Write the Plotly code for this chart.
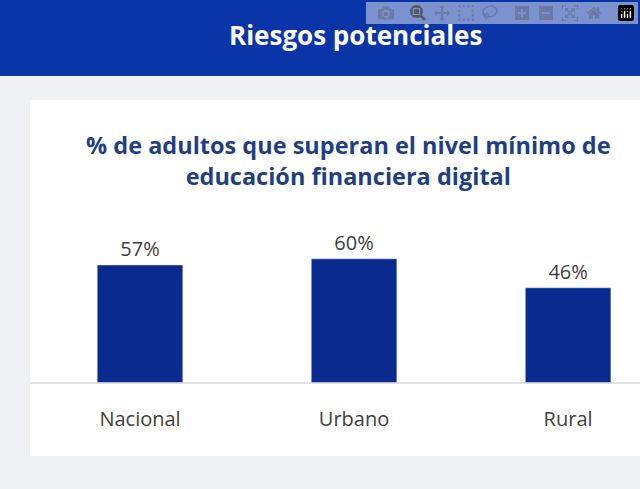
import plotly.graph_objects as go

categories = ["Nacional", "Urbano", "Rural"]
values = [57, 60, 46]
labels = ["57%", "60%", "46%"]

W, H = 640, 489
L, T, B = 33, 176, 106


def px_x(p):
    return (p - L) / (W - L)


def px_y(p):
    return (H - B - p) / (H - B - T)


fig = go.Figure(go.Bar(
    x=categories, y=values, text=labels, textposition="outside",
    width=0.4, marker_color="#0b2a8f", cliponaxis=False,
    textfont=dict(size=20, color="#404040", family="Open Sans"),
))

shapes = [
    # page background
    dict(type="rect", xref="paper", yref="paper", x0=px_x(0), x1=px_x(W), y0=px_y(H), y1=px_y(0),
         fillcolor="#eef0f3", line_width=0, layer="below"),
    # header band
    dict(type="rect", xref="paper", yref="paper", x0=px_x(0), x1=px_x(W), y0=px_y(76), y1=px_y(0),
         fillcolor="#0a35a8", line_width=0, layer="below"),
    # white card
    dict(type="rect", xref="paper", yref="paper", x0=px_x(30), x1=px_x(W), y0=px_y(456), y1=px_y(100),
         fillcolor="white", line_width=0, layer="below"),
    # baseline
    dict(type="line", xref="paper", yref="paper", x0=px_x(30), x1=px_x(W), y0=0, y1=0,
         line=dict(color="#d9d9d9", width=1.5)),
]

annotations = [
    dict(text="<b>Riesgos potenciales</b>", xref="paper", yref="paper", x=px_x(355), y=px_y(35),
         xanchor="center", yanchor="middle", showarrow=False,
         font=dict(size=26, color="white", family="Open Sans")),
    dict(text="<b>% de adultos que superan el nivel mínimo de<br>educación financiera digital</b>",
         xref="paper", yref="paper", x=px_x(348), y=px_y(160), xanchor="center", yanchor="middle",
         showarrow=False, font=dict(size=23.5, color="#1f3f85", family="Open Sans")),
]

fig.update_layout(
    width=W, height=H,
    margin=dict(l=L, r=0, t=T, b=B),
    paper_bgcolor="#eef0f3", plot_bgcolor="rgba(0,0,0,0)",
    showlegend=False, shapes=shapes, annotations=annotations,
    xaxis=dict(range=[-0.5, 2.336], showgrid=False, zeroline=False, showline=False,
               tickfont=dict(size=20, color="#404040", family="Open Sans"), ticklen=0,
               ticks="outside", tickcolor="rgba(0,0,0,0)"),
    yaxis=dict(range=[0, 100], visible=False),
)
fig.update_xaxes(ticklabelstandoff=18)

fig.write_html("out.html", post_script="document.body.style.margin='0';")
